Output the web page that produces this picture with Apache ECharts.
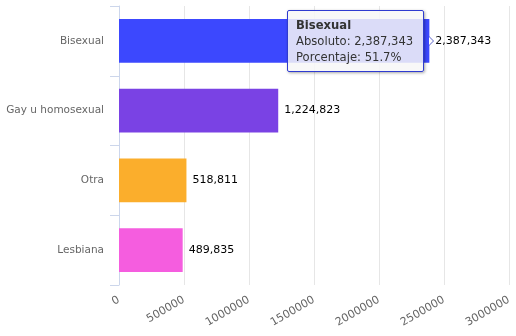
<!DOCTYPE html>
<html>
<head>
<meta charset="utf-8">
<script src="https://cdn.jsdelivr.net/npm/echarts@6/dist/echarts.min.js"></script>
<style>
html,body{margin:0;padding:0;background:#fff;}
#chart{width:516px;height:336px;}
</style>
</head>
<body>
<div id="chart"></div>
<script>
var categories = ['Bisexual', 'Gay u homosexual', 'Otra', 'Lesbiana'];
var values = [2387343, 1224823, 518811, 489835];
var barColors = ['#3c48fe', '#7a42e4', '#fbae2c', '#f55ddf'];
var xTicks = [0, 500000, 1000000, 1500000, 2000000, 2500000, 3000000];

var total = values.reduce(function (a, b) { return a + b; }, 0);
function fmt(n) { return n.toString().replace(/\B(?=(\d{3})+(?!\d))/g, ','); }

var chart = echarts.init(document.getElementById('chart'), null, { renderer: 'canvas' });
var font = '"DejaVu Sans", sans-serif';

chart.setOption({
  animation: false,
  grid: { left: 119, right: 7, top: 6, bottom: 51, containLabel: false },
  xAxis: {
    type: 'value',
    min: xTicks[0],
    max: xTicks[xTicks.length - 1],
    interval: xTicks[1] - xTicks[0],
    axisLine: { show: false },
    axisTick: { show: false },
    splitLine: { show: true, lineStyle: { color: '#e6e6e6', width: 1 } },
    axisLabel: {
      rotate: 30, color: '#666', fontSize: 11, fontFamily: font, margin: 14,
      formatter: function (v) { return String(v); }
    }
  },
  yAxis: {
    type: 'category',
    inverse: true,
    data: categories,
    axisLine: { show: true, lineStyle: { color: '#ccd6eb', width: 1 } },
    axisTick: { show: true, length: 9, lineStyle: { color: '#ccd6eb' } },
    splitLine: { show: false },
    axisLabel: { color: '#666', fontSize: 10.5, fontFamily: font, margin: 15 }
  },
  tooltip: {
    trigger: 'item',
    triggerOn: 'none',
    alwaysShowContent: true,
    backgroundColor: 'rgba(247,247,247,0.85)',
    borderColor: '#2f3bd0',
    borderWidth: 1,
    padding: [6, 10, 6, 8],
    extraCssText: 'box-shadow:1px 1px 3px rgba(0,0,0,0.35);border-radius:2px;overflow:visible;',
    textStyle: { color: '#333', fontSize: 11.6, fontFamily: font, lineHeight: 16 },
    position: function (point, params, dom, rect, size) {
      var w = size.contentSize[0], h = size.contentSize[1];
      return [rect.x + rect.width - w - 5, rect.y + rect.height / 2 - h / 2];
    },
    formatter: function (p) {
      var pct = (p.value / total * 100).toFixed(1);
      return '<div style="position:relative;line-height:16px;">' +
        '<b>' + p.name + '</b><br/>Absoluto: ' + fmt(p.value) + '<br/>Porcentaje: ' + pct + '%' +
        '<span style="position:absolute;right:-21px;top:50%;margin-top:-5px;width:0;height:0;border-top:5px solid transparent;border-bottom:5px solid transparent;border-left:5px solid #5a63c8;"></span>' +
        '<span style="position:absolute;right:-20px;top:50%;margin-top:-4px;width:0;height:0;border-top:4px solid transparent;border-bottom:4px solid transparent;border-left:4px solid #fff;"></span>' +
        '</div>';
    }
  },
  series: [{
    type: 'bar',
    barWidth: '63%',
    data: values.map(function (v, i) { return { value: v, itemStyle: { color: barColors[i] } }; }),
    label: {
      show: true,
      position: 'right',
      distance: 6,
      color: '#000',
      fontSize: 11,
      fontFamily: font,
      formatter: function (p) { return fmt(p.value); }
    }
  }]
});
chart.dispatchAction({ type: 'showTip', seriesIndex: 0, dataIndex: 0 });
</script>
</body>
</html>
